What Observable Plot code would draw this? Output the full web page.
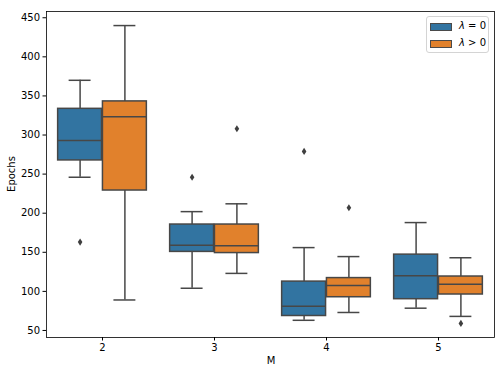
<!DOCTYPE html>
<html><head><meta charset="utf-8">
<script src="https://cdn.jsdelivr.net/npm/d3@7"></script>
<script src="https://cdn.jsdelivr.net/npm/@observablehq/plot@0.6"></script>
<style>
body{margin:0;background:#fff}
#wrap{position:relative;width:504px;height:375px;font:10px "DejaVu Sans",sans-serif;color:#000}
.legend{position:absolute;left:426px;top:16px;width:61px;height:35px;border:1px solid #d4d4d4;border-radius:3px;background:rgba(255,255,255,0.8)}
.sw{position:absolute;left:3px;width:20px;height:6px;border:1px solid #4a4a4a}
.lt{position:absolute;left:32px;line-height:12px;white-space:nowrap}
.xl{position:absolute;left:0;width:100%;top:355px;text-align:center;padding-left:38px;box-sizing:border-box;line-height:12px}
.yl{position:absolute;left:12px;top:174px;transform:translate(-50%,-50%) rotate(-90deg);line-height:12px;white-space:nowrap}
</style>
</head><body><div id="wrap"></div>
<script>
const Ms = [2, 3, 4, 5];
const hues = ["λ = 0", "λ > 0"];
const colors = ["#3274a1", "#e1812c"];
const yTicks = [50, 100, 150, 200, 250, 300, 350, 400, 450];
const xLabel = "M", yLabel = "Epochs";

// λ = 0
const lo0  = [246, 104, 63, 78.5];
const q1_0 = [267.5, 150.5, 68.5, 90];
const med0 = [293, 159, 81, 120];
const q3_0 = [333.5, 185.5, 112.5, 147];
const hi0  = [370, 202, 156, 188];
const out0 = [[163], [246], [279], []];
// λ > 0
const lo1  = [89, 123, 73, 68];
const q1_1 = [229, 149, 92.5, 96];
const med1 = [323.5, 158.5, 107.5, 109];
const q3_1 = [343, 185.5, 117, 119];
const hi1  = [440, 212, 144.5, 143];
const out1 = [[], [308], [207], [59]];

const stats = [[lo0, q1_0, med0, q3_0, hi0, out0], [lo1, q1_1, med1, q3_1, hi1, out1]];
const boxes = [];
const outliers = [];
stats.forEach(([lo, q1, med, q3, hi, out], h) => {
  Ms.forEach((m, i) => {
    const c = m + (h === 0 ? -0.2 : 0.2);
    boxes.push({m, h, c, x1: c - 0.196, x2: c + 0.196, cx1: c - 0.098, cx2: c + 0.098,
      lo: lo[i], q1: q1[i], med: med[i], q3: q3[i], hi: hi[i]});
    out[i].forEach(v => outliers.push({c, v}));
  });
});

const thinDiamond = {
  draw(ctx, size) {
    const h = 3.6, w = 2.3;
    ctx.moveTo(0, -h); ctx.lineTo(w, 0); ctx.lineTo(0, h); ctx.lineTo(-w, 0); ctx.closePath();
  }
};

const line = "#474747";
const chart = Plot.plot({
  width: 504, height: 375,
  marginLeft: 46, marginRight: 10, marginTop: 11, marginBottom: 38,
  style: {fontSize: "10px", fontFamily: "DejaVu Sans, sans-serif", color: "#000", background: "#fff"},
  x: {domain: [1.5, 5.5], ticks: Ms, tickFormat: "d", tickSize: 3.5, tickPadding: 3, label: null},
  y: {domain: [41, 458], ticks: yTicks, tickSize: 3.5, tickPadding: 3, label: null},
  marks: [
    Plot.ruleX(boxes, {x: "c", y1: "lo", y2: "q1", stroke: line, strokeWidth: 1.5}),
    Plot.ruleX(boxes, {x: "c", y1: "q3", y2: "hi", stroke: line, strokeWidth: 1.5}),
    Plot.ruleY(boxes, {y: "lo", x1: "cx1", x2: "cx2", stroke: line, strokeWidth: 1.5}),
    Plot.ruleY(boxes, {y: "hi", x1: "cx1", x2: "cx2", stroke: line, strokeWidth: 1.5}),
    Plot.rect(boxes, {x1: "x1", x2: "x2", y1: "q1", y2: "q3", fill: d => colors[d.h], stroke: line, strokeWidth: 1.5}),
    Plot.ruleY(boxes, {y: "med", x1: "x1", x2: "x2", stroke: line, strokeWidth: 1.5}),
    Plot.dot(outliers, {x: "c", y: "v", symbol: thinDiamond, fill: "#3f3f3f", stroke: "none", r: 3}),
    Plot.frame({stroke: "#000", strokeWidth: 0.8})
  ]
});
const wrap = document.getElementById("wrap");
wrap.appendChild(chart);
const xl = document.createElement("div"); xl.className = "xl"; xl.textContent = xLabel; wrap.appendChild(xl);
const yl = document.createElement("div"); yl.className = "yl"; yl.textContent = yLabel; wrap.appendChild(yl);
const leg = document.createElement("div");
leg.className = "legend";
hues.forEach((lab, i) => {
  const sw = document.createElement("div");
  sw.className = "sw"; sw.style.top = (6 + i * 17) + "px"; sw.style.background = colors[i];
  const t = document.createElement("div");
  t.className = "lt"; t.style.top = (3 + i * 17) + "px";
  t.innerHTML = "<i>λ</i>" + lab.slice(1);
  leg.appendChild(sw); leg.appendChild(t);
});
wrap.appendChild(leg);
</script></body></html>
